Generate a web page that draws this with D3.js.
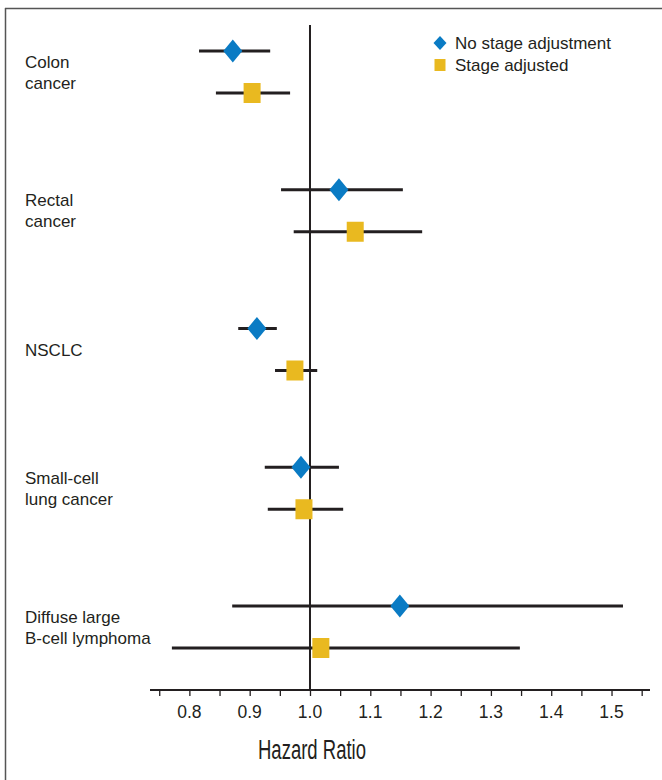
<!DOCTYPE html>
<html>
<head>
<meta charset="utf-8">
<script src="https://cdn.jsdelivr.net/npm/d3@7"></script>
<style>
  html, body { margin: 0; padding: 0; background: #fff; }
  svg { display: block; }
  .lbl { font-family: "Liberation Sans", Arial, sans-serif; font-size: 17px; fill: #231f20; }
  .tick-lbl { font-family: "Liberation Sans", Arial, sans-serif; font-size: 17.5px; fill: #231f20; }
  .axis-title { font-family: "Liberation Sans", Arial, sans-serif; font-size: 27px; fill: #231f20; }
</style>
</head>
<body>
<svg id="chart" width="662" height="780"></svg>
<script>
// Cancer types (two-line labels)
const categories = [
  ["Colon", "cancer"],
  ["Rectal", "cancer"],
  ["NSCLC"],
  ["Small-cell", "lung cancer"],
  ["Diffuse large", "B-cell lymphoma"]
];

// Hazard ratios without stage adjustment: estimate, lower CI, upper CI
const noStageHR = [0.872, 1.048, 0.912, 0.985, 1.149];
const noStageLo = [0.816, 0.952, 0.881, 0.925, 0.871];
const noStageHi = [0.934, 1.154, 0.945, 1.048, 1.519];

// Hazard ratios with stage adjustment
const stageHR = [0.904, 1.075, 0.975, 0.990, 1.018];
const stageLo = [0.844, 0.973, 0.942, 0.930, 0.771];
const stageHi = [0.967, 1.186, 1.012, 1.055, 1.348];

// Axis ticks
const tickLabels = [0.8, 0.9, 1.0, 1.1, 1.2, 1.3, 1.4, 1.5];
const minorTicks = [0.75, 0.8, 0.85, 0.9, 0.95, 1.0, 1.05, 1.1, 1.15, 1.2, 1.25, 1.3, 1.35, 1.4, 1.45, 1.5, 1.55];

const seriesNames = ["No stage adjustment", "Stage adjusted"];
const BLUE = "#0a7bc4";
const GOLD = "#e9b920";
const INK = "#231f20";

const svg = d3.select("#chart");

// Outer frame (top and left rules)
svg.append("line").attr("x1", 5).attr("x2", 662).attr("y1", 8.5).attr("y2", 8.5)
  .attr("stroke", "#555").attr("stroke-width", 1.5);
svg.append("line").attr("x1", 5.5).attr("x2", 5.5).attr("y1", 8).attr("y2", 780)
  .attr("stroke", "#555").attr("stroke-width", 1.5);

const x = d3.scaleLinear().domain([0.7347, 1.5638]).range([150, 650]);
const y = d3.scalePoint().domain(d3.range(categories.length)).range([72, 627]);
const axisY = 690;
const offset = 21;

// Axis baseline and ticks
const axis = d3.axisBottom(x).tickValues(minorTicks).tickSize(6).tickFormat("");
const gAxis = svg.append("g").attr("transform", `translate(0,${axisY})`).call(axis);
gAxis.select(".domain").remove();
gAxis.selectAll(".tick line").attr("stroke", INK).attr("stroke-width", 1.3);
svg.append("line").attr("x1", x.range()[0]).attr("x2", x.range()[1])
  .attr("y1", axisY).attr("y2", axisY).attr("stroke", INK).attr("stroke-width", 2);

svg.append("g").selectAll("text").data(tickLabels).join("text")
  .attr("class", "tick-lbl")
  .attr("x", d => x(d)).attr("y", axisY + 28)
  .attr("text-anchor", "middle")
  .text(d => d.toFixed(1));

svg.append("text").attr("class", "axis-title")
  .attr("x", x(1.0) + 2).attr("y", 759).attr("text-anchor", "middle")
  .attr("textLength", 108).attr("lengthAdjust", "spacingAndGlyphs")
  .text("Hazard Ratio");

// Reference line at HR = 1
svg.append("line").attr("x1", x(1)).attr("x2", x(1)).attr("y1", 25).attr("y2", axisY)
  .attr("stroke", INK).attr("stroke-width", 2);

// Category labels
const lab = svg.append("g").selectAll("text").data(categories).join("text")
  .attr("class", "lbl")
  .attr("x", 25)
  .attr("y", (d, i) => y(i) - (d.length - 1) * 10.5 + 6);
lab.selectAll("tspan").data(d => d).join("tspan")
  .attr("x", 25).attr("dy", (d, i) => i === 0 ? 0 : 21).text(d => d);

// Series data
const rows = categories.map((c, i) => [
  { i, s: 0, est: noStageHR[i], lo: noStageLo[i], hi: noStageHi[i] },
  { i, s: 1, est: stageHR[i], lo: stageLo[i], hi: stageHi[i] }
]).flat();
const rowY = d => y(d.i) + (d.s === 0 ? -offset : offset);

// Confidence intervals
svg.append("g").selectAll("line").data(rows).join("line")
  .attr("x1", d => x(d.lo)).attr("x2", d => x(d.hi))
  .attr("y1", rowY).attr("y2", rowY)
  .attr("stroke", INK).attr("stroke-width", 3);

// Point estimates
const marks = svg.append("g");
marks.selectAll("path.diamond").data(rows.filter(d => d.s === 0)).join("path")
  .attr("class", "diamond")
  .attr("d", "M0,-11.5L9.5,0L0,11.5L-9.5,0Z")
  .attr("transform", d => `translate(${x(d.est)},${rowY(d)})`)
  .attr("fill", BLUE);
marks.selectAll("rect").data(rows.filter(d => d.s === 1)).join("rect")
  .attr("x", d => x(d.est) - 8.5).attr("y", d => rowY(d) - 10)
  .attr("width", 17).attr("height", 20)
  .attr("fill", GOLD);

// Legend
const leg = svg.append("g").attr("transform", "translate(440,0)");
leg.append("path").attr("d", "M0,-7L6.5,0L0,7L-6.5,0Z").attr("transform", "translate(0,43)").attr("fill", BLUE);
leg.append("rect").attr("x", -5.5).attr("y", 59).attr("width", 11).attr("height", 12).attr("fill", GOLD);
leg.selectAll("text").data(seriesNames).join("text")
  .attr("class", "lbl")
  .attr("x", 15).attr("y", (d, i) => 49 + i * 22)
  .text(d => d);
</script>
</body>
</html>
